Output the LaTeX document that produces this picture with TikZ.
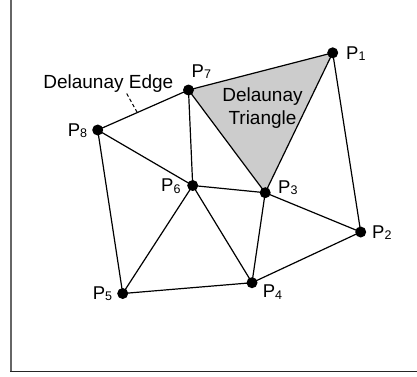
\documentclass[tikz,border=0pt]{standalone}
\usepackage{fontspec}
\setmainfont{Liberation Sans}
\usetikzlibrary{calc,backgrounds}
\newcommand\psub[1]{P\raisebox{-1.3pt}{\fontsize{12.5}{13}\selectfont #1}}
\tikzset{
  dot/.style={circle,fill=black,inner sep=0pt,minimum size=11pt},
  edge/.style={line width=1.2pt,black},
  lbl/.style={anchor=base west,inner sep=0pt,font=\fontsize{18.5}{20}\selectfont},
  txt/.style={inner sep=0pt,font=\fontsize{19}{22.3}\selectfont},
  tri/.style={fill=black!20},
}
\begin{document}
\begin{tikzpicture}[x=1pt,y=-1pt]
\useasboundingbox (0,0) rectangle (417,376);
\draw[line width=1.5pt,black!60] (11,0) -- (11,371.5);
\draw[line width=1.5pt,black!85] (10.25,371.5) -- (417,371.5);
% points
\node[dot] (p1) at (332.7,52.8) {};
\node[dot] (p2) at (360.7,232) {};
\node[dot] (p3) at (265.2,192.7) {};
\node[dot] (p4) at (252,282.7) {};
\node[dot] (p5) at (122.7,293.5) {};
\node[dot] (p6) at (192.7,185.5) {};
\node[dot] (p7) at (188.5,90) {};
\node[dot] (p8) at (97.7,130) {};
\begin{scope}[on background layer]
\fill[tri] (p1.center) -- (p7.center) -- (p3.center) -- cycle;
\draw[edge] (p1.center) -- (p7.center) -- (p3.center) -- cycle;
\draw[edge] (p1.center) -- (p2.center);
\draw[edge] (p7.center) -- (p8.center);
\draw[edge] (p7.center) -- (p6.center);
\draw[edge] (p8.center) -- (p6.center);
\draw[edge] (p8.center) -- (p5.center);
\draw[edge] (p6.center) -- (p3.center);
\draw[edge] (p6.center) -- (p5.center);
\draw[edge] (p6.center) -- (p4.center);
\draw[edge] (p3.center) -- (p4.center);
\draw[edge] (p3.center) -- (p2.center);
\draw[edge] (p2.center) -- (p4.center);
\draw[edge] (p5.center) -- (p4.center);
\end{scope}
% labels
\node[lbl] (l1) at (346,59.3) {\psub{1}};
\node[lbl] (l2) at (372,238.5) {\psub{2}};
\node[lbl] (l3) at (278,193.5) {\psub{3}};
\node[lbl] (l4) at (262.7,297.7) {\psub{4}};
\node[lbl] (l5) at (92.7,299.5) {\psub{5}};
\node[lbl] (l6) at (161,191.7) {\psub{6}};
\node[lbl] (l7) at (191.5,77.5) {\psub{7}};
\node[lbl] (l8) at (67.7,136) {\psub{8}};
% texts
\node[txt,anchor=base] (edgelbl) at (108.3,88.3) {Delaunay Edge};
\node[txt,align=center] (trilbl) at (262.5,108) {Delaunay\\Triangle};
\coordinate (et) at (126.7,93.5);
\coordinate (ee) at ($(p8)!0.436!(p7)$);
\draw[line width=1pt,dash pattern=on 3.5pt off 2.5pt] (et) -- (ee);
\end{tikzpicture}
\end{document}
